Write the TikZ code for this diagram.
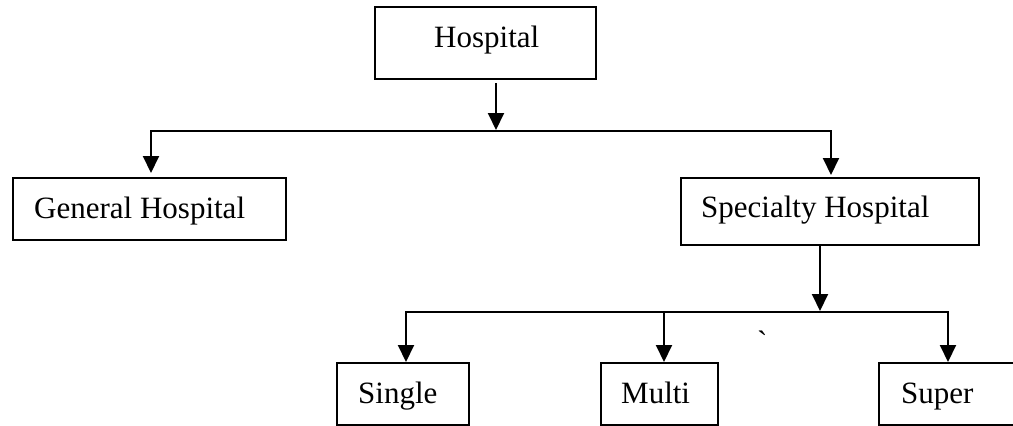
\documentclass[tikz,border=0pt]{standalone}
\usepackage{fontspec}
\setmainfont{Liberation Serif}
\usetikzlibrary{arrows.meta}
\begin{document}
\begin{tikzpicture}[x=1pt,y=-1pt,
  box/.style={draw, line width=1.8pt, inner sep=0pt, outer sep=0pt, rectangle},
  lbl/.style={anchor=base west, inner sep=0pt, font=\fontsize{31}{37}\selectfont},
  wire/.style={line width=2pt, line cap=rect},
  arr/.style={line width=2pt, -{Triangle[length=17pt,width=16pt]}}]
\useasboundingbox[fill=white] (0,0) rectangle (1013,426);

% boxes
\node[box, minimum width=221pt, minimum height=72pt] (hosp) at (485.5,43) {};
\node[box, minimum width=273pt, minimum height=62pt] (gen) at (149.5,209) {};
\node[box, minimum width=298pt, minimum height=67pt] (spec) at (830,211.5) {};
\node[box, minimum width=132pt, minimum height=62pt] (single) at (403,394) {};
\node[box, minimum width=117pt, minimum height=62pt] (multi) at (659.5,394) {};
\node[box, minimum width=151pt, minimum height=62pt] (super) at (954.5,394) {};

% labels
\node[lbl] (hospT) at (434,47) {Hospital};
\node[lbl] (genT) at (34,218) {General Hospital};
\node[lbl] (specT) at (701,217) {Specialty Hospital};
\node[lbl] (singleT) at (358,403) {Single};
\node[lbl] (multiT) at (621,403) {Multi};
\node[lbl] (superT) at (901,403) {Super};
\node[lbl] (tick) at (757,352) {\textasciigrave};

% first level
\coordinate (hb) at (496,83);
\coordinate (hj) at (496,130);
\coordinate (gl) at (151,131);
\coordinate (gr) at (831,131);
\draw[arr] (hb) -- (hj);
\draw[wire] (gl) -- (gr);
\draw[arr] (gl) -- ([yshift=5pt]gen.north -| gl);
\draw[arr] (gr) -- ([yshift=3pt]spec.north -| gr);

% second level
\coordinate (sb) at (820,245);
\coordinate (sj) at (820,311);
\coordinate (bl) at (406,312);
\coordinate (bm) at (664,312);
\coordinate (br) at (948,312);
\draw[arr] (sb) -- (sj);
\draw[wire] (bl) -- (br);
\draw[arr] (bl) -- ([yshift=1pt]single.north -| bl);
\draw[arr] (bm) -- ([yshift=1pt]multi.north -| bm);
\draw[arr] (br) -- ([yshift=1pt]super.north -| br);
\end{tikzpicture}
\end{document}
